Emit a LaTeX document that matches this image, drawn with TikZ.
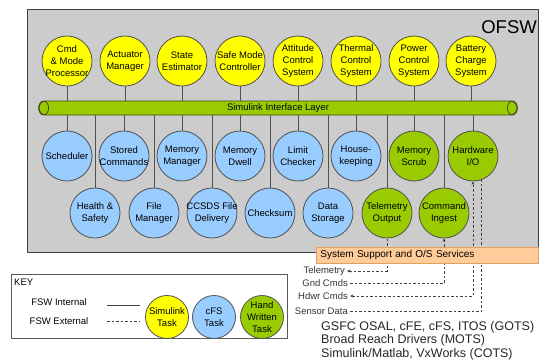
\documentclass[tikz,border=0pt]{standalone}
\usepackage{fontspec}
\setmainfont{Liberation Sans}
\usepackage{xcolor}
\usetikzlibrary{arrows.meta,positioning,calc}

\definecolor{panelgray}{HTML}{CCCCCC}
\definecolor{edgegray}{HTML}{505050}
\definecolor{simyellow}{HTML}{FFFF00}
\definecolor{cfsblue}{HTML}{99CCFF}
\definecolor{handgreen}{HTML}{99CC00}
\definecolor{busedge}{HTML}{3F4F10}
\definecolor{ossfill}{HTML}{FFCC99}
\definecolor{ossedge}{HTML}{E0A060}

\begin{document}
\begin{tikzpicture}[x=1pt,y=-1pt,
    task/.style={circle,draw=edgegray,line width=0.8pt,minimum size=50pt,inner sep=0pt},
    simtask/.style={task,fill=simyellow},
    cfstask/.style={task,fill=cfsblue},
    hwtask/.style={task,fill=handgreen},
    keytask/.style={minimum size=43pt},
    tasktext/.style={align=center,inner sep=0pt,font=\fontsize{9.5}{12}\selectfont},
    link/.style={draw=edgegray,line width=0.8pt},
    extlink/.style={draw=black!75,line width=0.7pt,dash pattern=on 2.5pt off 2pt},
    extlabel/.style={anchor=east,inner sep=2pt,text=black!80,font=\fontsize{9.5}{11}\selectfont},
    bus/.style={draw=busedge,fill=handgreen,line width=0.8pt,minimum width=478pt,minimum height=14pt,
      rounded corners=7pt,inner sep=0pt,font=\fontsize{9.5}{11}\selectfont},
    sysbox/.style={draw=ossedge,fill=ossfill,line width=0.8pt,anchor=north west,minimum width=222pt,
      minimum height=16pt,text width=214pt,inner xsep=4pt,align=left,font=\fontsize{10}{12}\selectfont},
    keytext/.style={inner sep=0pt,font=\fontsize{9.5}{11}\selectfont},
    >={Stealth[length=3.5pt,width=3pt]}]
    \useasboundingbox (0,0) rectangle (540,362);

    % OFSW panel
    \draw[draw=black!75,line width=0.9pt,fill=panelgray] (27,9) rectangle (538,252);
    \node[anchor=east,inner sep=0pt,font=\fontsize{18.5}{20}\selectfont] (ofsw) at (537,27) {OFSW};

    % simulink interface layer
    \node[bus] (sil) at (278,108) {Simulink Interface Layer};
    \draw[draw=busedge,line width=0.8pt] ([xshift=5pt]sil.west) ellipse (5pt and 7pt);
    \draw[draw=busedge,line width=0.8pt] ([xshift=-5pt]sil.east) ellipse (5pt and 7pt);

    % tasks above the bus
    \foreach \n/\x/\txt in {cmd/67/{Cmd\\\& Mode\\Processor}, act/125/{Actuator\\Manager},
        est/182/{State\\Estimator}, safe/240/{Safe Mode\\Controller}, acs/298/{Attitude\\Control\\System},
        tcs/356/{Thermal\\Control\\System}, pcs/414/{Power\\Control\\System}, bcs/471/{Battery\\Charge\\System}} {
      \node[simtask,label={[tasktext]center:\txt}] (\n) at (\x,61) {};
      \draw[link] (\n.south) -- (\n.south |- sil.north);
    }

    % tasks below the bus
    \foreach \n/\x/\y/\s/\txt in {sch/67/156/cfstask/{Scheduler}, sc/124/156/cfstask/{Stored\\Commands},
        mm/182/156/cfstask/{Memory\\Manager}, md/240/156/cfstask/{Memory\\Dwell},
        lc/298/156/cfstask/{Limit\\Checker}, hk/356/156/cfstask/{House-\\keeping},
        ms/414/156/hwtask/{Memory\\Scrub}, hwio/473/156/hwtask/{Hardware\\I/O},
        hs/95/213/cfstask/{Health \&\\Safety}, fm/154/213/cfstask/{File\\Manager},
        cfdp/212/213/cfstask/{CCSDS File\\Delivery}, cks/270/213/cfstask/{Checksum},
        ds/328/213/cfstask/{Data\\Storage}, to/387/213/hwtask/{Telemetry\\Output},
        ci/444/213/hwtask/{Command\\Ingest}} {
      \node[\s,label={[tasktext]center:\txt}] (\n) at (\x,\y) {};
      \draw[link] (\n.north |- sil.south) -- (\n.north);
    }

    % external interfaces
    \node[extlabel] (telem) at (347,271) {Telemetry};
    \node[extlabel] (gnd) at (350,283) {Gnd Cmds};
    \node[extlabel] (hdwr) at (350,296) {Hdwr Cmds};
    \node[extlabel] (sens) at (350,311) {Sensor Data};
    \draw[extlink,<-] (telem.east) -| (to.south);
    \draw[extlink,->] (gnd.east) -| (ci.south);
    \draw[extlink,<->] (hdwr.east) -| (hwio.south);
    \draw[extlink] (sens.east) -| (hwio.-70);

    \node[sysbox] (oss) at (316,247) {System Support and O/S Services};

    \node[anchor=north west,align=left,inner sep=0pt,text=black!85,font=\fontsize{12.5}{13.5}\selectfont] (cots)
      at (321,321) {GSFC OSAL, cFE, cFS, ITOS (GOTS)\\Broad Reach Drivers (MOTS)\\Simulink/Matlab, VxWorks (COTS)};

    % key
    \draw[draw=black!65,line width=0.8pt] (11,274) rectangle (287,338);
    \node[keytext,anchor=west] (key) at (14,282) {KEY};
    \node[keytext] (fswin) at (59,302) {FSW Internal};
    \node[keytext] (fswex) at (59,321) {FSW External};
    \coordinate (inA) at (107,305);
    \coordinate (inB) at (140,305);
    \coordinate (exA) at (107,321);
    \coordinate (exB) at (140,321);
    \draw[draw=black!75,line width=0.7pt] (inA) -- (inB);
    \draw[extlink] (exA) -- (exB);
    \node[simtask,keytask,label={[tasktext]center:{Simulink\\Task}}] (ksim) at (167,317) {};
    \node[cfstask,keytask,label={[tasktext]center:{cFS\\Task}}] (kcfs) at (214,317) {};
    \node[hwtask,keytask,label={[tasktext]center:{Hand\\Written\\Task}}] (khw) at (262,317) {};
  \end{tikzpicture}
\end{document}
